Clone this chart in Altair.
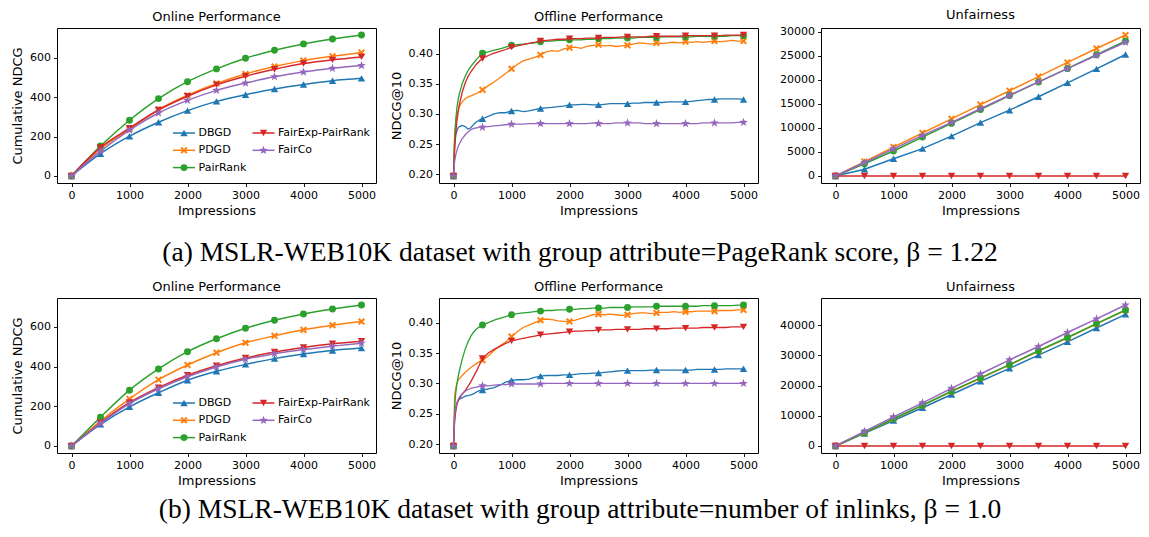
import math
import altair as alt
import pandas as pd

# ---------------- data ----------------
SERIES = ["DBGD", "PDGD", "PairRank", "FairExp-PairRank", "FairCo"]
COLORS = ["#1f77b4", "#ff7f0e", "#2ca02c", "#d62728", "#9467bd"]

X_COARSE = [0, 500, 1000, 1500, 2000, 2500, 3000, 3500, 4000, 4500, 5000]
X_FINE = [0, 20, 40, 60, 80, 100, 150, 200, 250, 300, 350, 400, 450, 500] + list(range(600, 5001, 100))
X_TICKS = [0, 1000, 2000, 3000, 4000, 5000]

# (a) PageRank score
ONLINE_A = {
    "DBGD": [0, 113, 202, 273, 332, 379, 413, 442, 465, 484, 496],
    "PDGD": [0, 138, 238, 337, 410, 470, 518, 556, 586, 608, 627],
    "PairRank": [0, 152, 283, 393, 479, 544, 598, 639, 671, 696, 716],
    "FairExp-PairRank": [0, 145, 243, 335, 405, 463, 507, 542, 571, 590, 605],
    "FairCo": [0, 126, 233, 320, 384, 435, 472, 504, 528, 547, 561],
}
UNFAIR_A = {
    "DBGD": [0, 1400, 3600, 5700, 8300, 11100, 13700, 16500, 19400, 22300, 25300],
    "PDGD": [0, 3000, 6000, 8950, 11900, 14850, 17750, 20700, 23650, 26550, 29350],
    "PairRank": [0, 2550, 5200, 8100, 10950, 13850, 16750, 19550, 22400, 25250, 28100],
    "FairExp-PairRank": [0, 0, 0, 0, 0, 0, 0, 0, 0, 0, 0],
    "FairCo": [0, 2800, 5650, 8450, 11150, 14000, 16800, 19600, 22350, 25150, 27850],
}
OFFLINE_A = {
    "DBGD": [0.197, 0.255, 0.266, 0.272, 0.277, 0.279, 0.281, 0.279, 0.275, 0.277, 0.283, 0.287, 0.290, 0.292,
             0.296, 0.300, 0.302, 0.302, 0.305,
             0.306, 0.304, 0.305, 0.307, 0.309, 0.310, 0.311, 0.312, 0.313, 0.315,
             0.315, 0.316, 0.316, 0.315, 0.315, 0.316, 0.317, 0.317, 0.317, 0.317,
             0.318, 0.318, 0.319, 0.319, 0.319, 0.319, 0.320, 0.320, 0.320, 0.320,
             0.321, 0.322, 0.323, 0.324, 0.324, 0.325, 0.325, 0.325, 0.325, 0.324],
    "PDGD": [0.197, 0.262, 0.285, 0.297, 0.306, 0.312, 0.320, 0.325, 0.328, 0.330, 0.332, 0.334, 0.337, 0.340,
             0.347, 0.353, 0.360, 0.367, 0.375,
             0.382, 0.388, 0.391, 0.394, 0.398, 0.403, 0.405, 0.404, 0.408, 0.410,
             0.411, 0.409, 0.412, 0.414, 0.415, 0.413, 0.414, 0.412, 0.413, 0.414,
             0.416, 0.418, 0.417, 0.416, 0.418, 0.417, 0.418, 0.419, 0.418, 0.420,
             0.419, 0.420, 0.419, 0.420, 0.421, 0.420, 0.421, 0.422, 0.421, 0.421],
    "PairRank": [0.197, 0.262, 0.292, 0.311, 0.323, 0.333, 0.350, 0.362, 0.372, 0.379, 0.385, 0.391, 0.396, 0.401,
                 0.403, 0.406, 0.408, 0.411, 0.414,
                 0.415, 0.416, 0.417, 0.418, 0.420, 0.421, 0.421, 0.422, 0.422, 0.423,
                 0.423, 0.423, 0.424, 0.424, 0.425, 0.425, 0.425, 0.426, 0.426, 0.426,
                 0.426, 0.427, 0.427, 0.427, 0.427, 0.428, 0.428, 0.428, 0.428, 0.428,
                 0.428, 0.429, 0.429, 0.429, 0.429, 0.429, 0.429, 0.430, 0.430, 0.430],
    "FairExp-PairRank": [0.197, 0.240, 0.268, 0.289, 0.303, 0.315, 0.336, 0.351, 0.362, 0.370, 0.377, 0.383, 0.388, 0.392,
                         0.397, 0.401, 0.404, 0.407, 0.411,
                         0.413, 0.415, 0.417, 0.419, 0.421, 0.422, 0.423, 0.424, 0.424, 0.425,
                         0.425, 0.425, 0.426, 0.426, 0.426, 0.427, 0.427, 0.427, 0.428, 0.428,
                         0.428, 0.428, 0.428, 0.429, 0.429, 0.429, 0.429, 0.429, 0.429, 0.430,
                         0.430, 0.430, 0.430, 0.430, 0.430, 0.430, 0.431, 0.431, 0.431, 0.431],
    "FairCo": [0.197, 0.222, 0.232, 0.240, 0.246, 0.250, 0.259, 0.265, 0.270, 0.274, 0.276, 0.277, 0.278, 0.278,
               0.279, 0.280, 0.281, 0.282, 0.283,
               0.283, 0.283, 0.284, 0.284, 0.284, 0.284, 0.284, 0.284, 0.284, 0.284,
               0.284, 0.284, 0.284, 0.285, 0.284, 0.284, 0.284, 0.285, 0.285, 0.285,
               0.285, 0.285, 0.284, 0.284, 0.284, 0.284, 0.284, 0.284, 0.284, 0.284,
               0.284, 0.284, 0.285, 0.285, 0.285, 0.285, 0.285, 0.285, 0.286, 0.286],
}

# (b) number of inlinks
ONLINE_B = {
    "DBGD": [0, 109, 197, 268, 331, 376, 411, 440, 463, 481, 493],
    "PDGD": [0, 125, 237, 334, 408, 470, 520, 555, 585, 608, 627],
    "PairRank": [0, 145, 281, 388, 475, 540, 593, 633, 665, 690, 710],
    "FairExp-PairRank": [0, 117, 219, 294, 356, 404, 443, 473, 496, 515, 528],
    "FairCo": [0, 114, 213, 288, 349, 398, 437, 465, 486, 503, 518],
}
UNFAIR_B = {
    "DBGD": [0, 4150, 8450, 12650, 17050, 21450, 25700, 30100, 34500, 39100, 43600],
    "PDGD": [0, 4350, 8950, 13450, 18050, 22450, 26850, 31450, 35850, 40450, 44950],
    "PairRank": [0, 4400, 9000, 13500, 18150, 22550, 26950, 31550, 35950, 40550, 45050],
    "FairExp-PairRank": [0, 0, 0, 0, 0, 0, 0, 0, 0, 0, 0],
    "FairCo": [0, 4850, 9650, 14300, 19100, 23850, 28550, 32950, 37600, 42100, 46700],
}
OFFLINE_B = {
    "DBGD": [0.197, 0.245, 0.260, 0.268, 0.272, 0.274, 0.276, 0.279, 0.280, 0.281, 0.283, 0.286, 0.288, 0.289,
             0.291, 0.293, 0.297, 0.302, 0.305,
             0.306, 0.306, 0.307, 0.310, 0.312, 0.313, 0.313, 0.313, 0.314, 0.314,
             0.315, 0.316, 0.316, 0.317, 0.317, 0.318, 0.319, 0.320, 0.321, 0.321,
             0.321, 0.321, 0.321, 0.322, 0.322, 0.322, 0.322, 0.322, 0.322, 0.322,
             0.322, 0.323, 0.323, 0.323, 0.323, 0.323, 0.324, 0.324, 0.324, 0.324],
    "PDGD": [0.197, 0.280, 0.293, 0.300, 0.305, 0.308, 0.313, 0.318, 0.322, 0.326, 0.330, 0.333, 0.336, 0.338,
             0.345, 0.354, 0.362, 0.368, 0.377,
             0.385, 0.392, 0.396, 0.400, 0.404, 0.406, 0.405, 0.403, 0.402, 0.402,
             0.404, 0.407, 0.410, 0.413, 0.414, 0.413, 0.414, 0.413, 0.412, 0.413,
             0.415, 0.416, 0.416, 0.415, 0.416, 0.417, 0.417, 0.418, 0.417, 0.418,
             0.418, 0.419, 0.419, 0.419, 0.419, 0.420, 0.420, 0.420, 0.421, 0.421],
    "PairRank": [0.197, 0.262, 0.285, 0.300, 0.311, 0.320, 0.340, 0.356, 0.368, 0.378, 0.385, 0.390, 0.393, 0.396,
                 0.400, 0.404, 0.407, 0.410, 0.413,
                 0.415, 0.416, 0.417, 0.418, 0.419, 0.420, 0.420, 0.421, 0.421, 0.422,
                 0.422, 0.423, 0.423, 0.424, 0.424, 0.424, 0.425, 0.425, 0.425, 0.425,
                 0.426, 0.426, 0.426, 0.426, 0.427, 0.427, 0.427, 0.427, 0.427, 0.427,
                 0.427, 0.427, 0.428, 0.428, 0.428, 0.428, 0.428, 0.428, 0.429, 0.429],
    "FairExp-PairRank": [0.197, 0.238, 0.255, 0.265, 0.271, 0.275, 0.282, 0.288, 0.295, 0.303, 0.312, 0.321, 0.331, 0.341,
                         0.350, 0.356, 0.361, 0.366, 0.370,
                         0.372, 0.374, 0.376, 0.378, 0.380, 0.381, 0.382, 0.383, 0.384, 0.385,
                         0.386, 0.386, 0.387, 0.387, 0.388, 0.388, 0.388, 0.389, 0.389, 0.389,
                         0.389, 0.389, 0.390, 0.390, 0.390, 0.390, 0.390, 0.391, 0.391, 0.391,
                         0.391, 0.391, 0.392, 0.392, 0.392, 0.392, 0.392, 0.393, 0.393, 0.393],
    "FairCo": [0.197, 0.250, 0.262, 0.268, 0.273, 0.277, 0.283, 0.287, 0.290, 0.292, 0.293, 0.294, 0.295, 0.296,
               0.296, 0.297, 0.298, 0.298, 0.299,
               0.299, 0.299, 0.299, 0.299, 0.299, 0.300, 0.300, 0.300, 0.300, 0.300,
               0.300, 0.300, 0.300, 0.300, 0.300, 0.300, 0.300, 0.300, 0.300, 0.300,
               0.300, 0.300, 0.300, 0.300, 0.300, 0.300, 0.300, 0.300, 0.300, 0.300,
               0.300, 0.300, 0.300, 0.300, 0.300, 0.300, 0.300, 0.300, 0.300, 0.300],
}

CAPTION_A = "(a) MSLR-WEB10K dataset with group attribute=PageRank score, \u03b2 = 1.22"
CAPTION_B = "(b) MSLR-WEB10K dataset with group attribute=number of inlinks, \u03b2 = 1.0"

# ---------------- styling ----------------
FONT = "DejaVu Sans"
W, H = 319, 155
XDOM = [-250, 5250]

X_MARK = "M-1,-0.6L-0.6,-1L0,-0.4L0.6,-1L1,-0.6L0.4,0L1,0.6L0.6,1L0,0.4L-0.6,1L-1,0.6L-0.4,0Z"


def star_path(outer=1.0, inner=0.4):
    pts = []
    for k in range(10):
        r = outer if k % 2 == 0 else inner
        a = math.radians(-90 + 36 * k)
        pts.append(f"{r * math.cos(a):.3f},{r * math.sin(a):.3f}")
    return "M" + "L".join(pts) + "Z"


SHAPES = ["triangle-up", X_MARK, "circle", "triangle-down", star_path()]
SIZES = [55, 50, 48, 55, 85]


def long_df(xs, d):
    rows = []
    for s in SERIES:
        for x, y in zip(xs, d[s]):
            rows.append({"x": x, "y": y, "s": s})
    return pd.DataFrame(rows)


def mpl_domain(df):
    lo, hi = float(df["y"].min()), float(df["y"].max())
    m = 0.05 * (hi - lo)
    return [lo - m, hi + m]


def panel(df, title, ytitle, yticks, yfmt, stroke, interp, legend=False, caption=None, cap_dy=0):
    xenc = alt.X("x:Q", scale=alt.Scale(domain=XDOM, nice=False, zero=False),
                 axis=alt.Axis(values=X_TICKS, format="d", title="Impressions"))
    yenc = alt.Y("y:Q", scale=alt.Scale(domain=mpl_domain(df), nice=False, zero=False),
                 axis=alt.Axis(values=yticks, format=yfmt, title=ytitle))
    layers = []
    for s, c, sh, sz in zip(SERIES, COLORS, SHAPES, SIZES):
        sub = df[df["s"] == s]
        layers.append(alt.Chart(sub).mark_line(color=c, strokeWidth=stroke, interpolate=interp)
                      .encode(x=xenc, y=yenc))
        layers.append(alt.Chart(sub).transform_filter("datum.x % 500 == 0")
                      .mark_point(shape=sh, filled=True, color=c, size=sz, opacity=1)
                      .encode(x=xenc, y=yenc))
    if legend:
        for i, (s, c, sh, sz) in enumerate(zip(SERIES, COLORS, SHAPES, SIZES)):
            col, row = divmod(i, 3)
            x1 = 116 + col * 79.5
            yy = 105 + row * 17.3
            one = alt.Chart(pd.DataFrame({"s": [s]}))
            layers.append(one.mark_rule(color=c, strokeWidth=1.5)
                          .encode(x=alt.value(x1), x2=alt.value(x1 + 22), y=alt.value(yy)))
            layers.append(one.mark_point(shape=sh, filled=True, color=c, size=sz, opacity=1)
                          .encode(x=alt.value(x1 + 11), y=alt.value(yy)))
            layers.append(one.mark_text(align="left", baseline="middle", font=FONT, fontSize=11, color="black")
                          .encode(x=alt.value(x1 + 25.5), y=alt.value(yy), text="s:N"))
    if caption:
        layers.append(alt.Chart(pd.DataFrame({"t": [caption]}))
                      .mark_text(align="center", baseline="alphabetic", font="Liberation Serif",
                                 fontSize=27.5, color="black")
                      .encode(x=alt.value(141), y=alt.value(H + cap_dy), text="t:N"))
    return alt.layer(*layers).properties(width=W, height=H, title=title)


on_a = long_df(X_COARSE, ONLINE_A)
off_a = long_df(X_FINE, OFFLINE_A)
un_a = long_df(X_COARSE, UNFAIR_A)
on_b = long_df(X_COARSE, ONLINE_B)
off_b = long_df(X_FINE, OFFLINE_B)
un_b = long_df(X_COARSE, UNFAIR_B)

panels = [
    panel(on_a, "Online Performance", "Cumulative NDCG", [0, 200, 400, 600], "d", 1.5, "monotone", legend=True),
    panel(off_a, "Offline Performance", "NDCG@10", [0.20, 0.25, 0.30, 0.35, 0.40], ".2f", 1.3, "linear",
          caption=CAPTION_A, cap_dy=78),
    panel(un_a, "Unfairness", None, [0, 5000, 10000, 15000, 20000, 25000, 30000], "d", 1.5, "linear"),
    panel(on_b, "Online Performance", "Cumulative NDCG", [0, 200, 400, 600], "d", 1.5, "monotone", legend=True),
    panel(off_b, "Offline Performance", "NDCG@10", [0.20, 0.25, 0.30, 0.35, 0.40], ".2f", 1.3, "linear",
          caption=CAPTION_B, cap_dy=65),
    panel(un_b, "Unfairness", None, [0, 10000, 20000, 30000, 40000], "d", 1.5, "linear"),
]

chart = (
    alt.concat(*panels, columns=3, spacing={"row": 115, "column": 63}, bounds="flush")
    .properties(padding={"left": 3, "top": 0, "right": 0, "bottom": 0})
    .configure_view(stroke="black", strokeWidth=1)
    .configure_axis(domain=False, grid=False, ticks=True, tickSize=3.5, tickColor="black", tickWidth=0.9,
                    labelFont=FONT, labelFontSize=11, labelColor="black", labelPadding=3, labelFlush=False,
                    titleFont=FONT, titleFontSize=13, titleFontWeight="normal", titleColor="black")
    .configure_axisX(titlePadding=4)
    .configure_axisY(titlePadding=5)
    .configure_title(font=FONT, fontSize=13, fontWeight="normal", color="black", anchor="middle",
                     offset=4, baseline="alphabetic")
)

chart.save("out.html", embed_options={"renderer": "svg", "actions": False})
